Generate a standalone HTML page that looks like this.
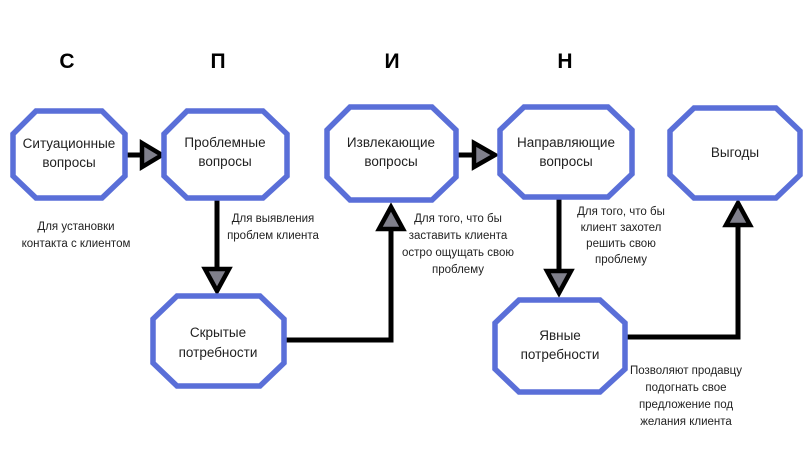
<!DOCTYPE html>
<html><head><meta charset="utf-8"><style>
body{margin:0;background:#fff;width:807px;height:454px;overflow:hidden}
svg{display:block}
text{font-family:"Liberation Sans",sans-serif;fill:#222}
.b{fill:#fff;stroke:#5a6fd8;stroke-width:5.5}
.l{stroke:#000;stroke-width:5;fill:none}
.t{fill:#80808c;stroke:#000;stroke-width:4.5;stroke-linejoin:miter}
.n{font-size:13.5px;text-anchor:middle}
.s{font-size:11.5px;text-anchor:middle}
.h{font-size:21px;font-weight:bold;text-anchor:middle;fill:#000}
</style></head><body>
<svg width="807" height="454">
<text class="h" x="67" y="68">С</text>
<text class="h" x="218" y="68">П</text>
<text class="h" x="392" y="68">И</text>
<text class="h" x="565" y="68">Н</text>

<path class="l" d="M125 155H142"/>
<polygon class="t" points="142,143 162,155 142,167"/>
<path class="l" d="M217 198V269"/>
<polygon class="t" points="205,269 229,269 217,291"/>
<path class="l" d="M284 340H391V229"/>
<polygon class="t" points="379,229 403,229 391,207"/>
<path class="l" d="M457 155H474"/>
<polygon class="t" points="474,143 495,155 474,167"/>
<path class="l" d="M559 197V271"/>
<polygon class="t" points="547,271 571,271 559,293"/>
<path class="l" d="M626 337H738V225"/>
<polygon class="t" points="726,225 750,225 738,203"/>

<polygon class="b" points="36,111 102,111 125,134 125,176 102,198 36,198 13,176 13,134"/>
<polygon class="b" points="187,111 263,111 287,134 287,176 263,198 187,198 164,176 164,134"/>
<polygon class="b" points="350,107 432,107 456,130 456,177 432,200 350,200 327,177 327,130"/>
<polygon class="b" points="524,107 608,107 632,130 632,174 608,197 524,197 500,174 500,130"/>
<polygon class="b" points="694,108 776,108 800,131 800,175 776,198 694,198 670,175 670,131"/>
<polygon class="b" points="177,296 260,296 284,319 284,363 260,386 177,386 153,363 153,319"/>
<polygon class="b" points="519,300 600,300 625,323 625,369 600,392 519,392 495,369 495,323"/>

<text class="n" x="69" y="148">Ситуационные</text>
<text class="n" x="69" y="167">вопросы</text>
<text class="n" x="225" y="147">Проблемные</text>
<text class="n" x="225" y="166">вопросы</text>
<text class="n" x="391" y="147">Извлекающие</text>
<text class="n" x="391" y="166">вопросы</text>
<text class="n" x="566" y="147">Направляющие</text>
<text class="n" x="566" y="166">вопросы</text>
<text class="n" x="735" y="157">Выгоды</text>
<text class="n" x="218" y="337">Скрытые</text>
<text class="n" x="218" y="357">потребности</text>
<text class="n" x="560" y="340">Явные</text>
<text class="n" x="560" y="359">потребности</text>

<text class="s" x="76" y="230">Для установки</text>
<text class="s" x="76" y="247">контакта с клиентом</text>
<text class="s" x="273" y="222">Для выявления</text>
<text class="s" x="273" y="239">проблем клиента</text>
<text class="s" x="458" y="222">Для того, что бы</text>
<text class="s" x="458" y="239">заставить клиента</text>
<text class="s" x="458" y="256">остро ощущать свою</text>
<text class="s" x="458" y="273">проблему</text>
<text class="s" x="621" y="215">Для того, что бы</text>
<text class="s" x="621" y="231">клиент захотел</text>
<text class="s" x="621" y="247">решить свою</text>
<text class="s" x="621" y="263">проблему</text>
<text class="s" x="686" y="374">Позволяют продавцу</text>
<text class="s" x="686" y="391">подогнать свое</text>
<text class="s" x="686" y="408">предложение под</text>
<text class="s" x="686" y="425">желания клиента</text>
</svg>
</body></html>
